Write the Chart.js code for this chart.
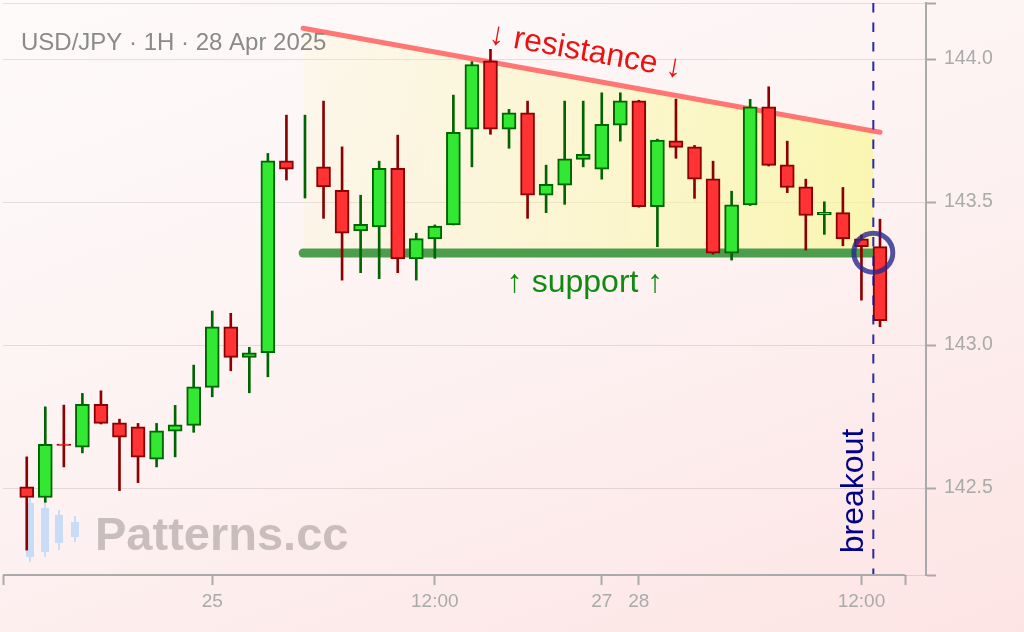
<!DOCTYPE html>
<html>
<head>
<meta charset="utf-8">
<script src="https://cdn.jsdelivr.net/npm/chart.js@4.4.1/dist/chart.umd.min.js"></script>
<style>
  html, body { margin: 0; padding: 0; }
  body { width: 1024px; height: 632px; overflow: hidden;
         background: linear-gradient(160deg, #fefafa 0%, #fdf2f2 50%, #fde4e4 100%); }
  #wrap { width: 1024px; height: 632px; }
</style>
</head>
<body>
<div id="wrap"><canvas id="chart" width="1024" height="632"></canvas></div>
<script>
// USD/JPY 1H candles (index 0 = first bar)
const opens  = [142.504, 142.467, 142.654, 142.643, 142.793, 142.728, 142.714, 142.601, 142.699, 142.719,
                142.852, 143.064, 142.957, 142.973, 143.644, 143.660, 143.623, 143.541, 143.399, 143.413,
                143.618, 143.301, 143.371, 143.420, 143.755, 143.994, 143.755, 143.812, 143.524, 143.559,
                143.649, 143.615, 143.769, 143.854, 143.484, 143.714, 143.693, 143.581, 143.321, 143.490,
                143.833, 143.630, 143.553, 143.455, 143.463, 143.371, 143.344];
const highs  = [142.609, 142.784, 142.790, 142.831, 142.840, 142.741, 142.726, 142.726, 142.789, 142.930,
                143.119, 143.111, 142.992, 143.670, 143.804, 143.804, 143.853, 143.693, 143.524, 143.643,
                143.734, 143.391, 143.420, 143.874, 143.991, 144.034, 143.824, 143.853, 143.629, 143.853,
                143.853, 143.882, 143.882, 143.856, 143.720, 143.860, 143.698, 143.643, 143.538, 143.859,
                143.903, 143.713, 143.580, 143.501, 143.551, 143.385, 143.440];
const lows   = [142.283, 142.450, 142.574, 142.623, 142.724, 142.491, 142.519, 142.574, 142.609, 142.695,
                142.819, 142.910, 142.833, 142.889, 143.577, 143.514, 143.443, 143.227, 143.253, 143.232,
                143.253, 143.227, 143.303, 143.420, 143.623, 143.737, 143.688, 143.443, 143.463, 143.492,
                143.623, 143.580, 143.713, 143.482, 143.344, 143.653, 143.513, 143.318, 143.297, 143.488,
                143.626, 143.533, 143.332, 143.387, 143.347, 143.157, 143.064];
const closes = [142.467, 142.653, 142.649, 142.793, 142.726, 142.678, 142.608, 142.700, 142.721, 142.854,
                143.064, 142.957, 142.973, 143.644, 143.615, 143.660, 143.553, 143.391, 143.422, 143.618,
                143.301, 143.372, 143.416, 143.744, 143.981, 143.755, 143.812, 143.524, 143.562, 143.651,
                143.667, 143.772, 143.854, 143.484, 143.717, 143.691, 143.580, 143.321, 143.490, 143.833,
                143.628, 143.551, 143.453, 143.464, 143.371, 143.344, 143.085];

// x axis labels sit on bar indexes
const tickIndex = [10, 22, 31, 33, 45];
const tickText  = ['25', '12:00', '27', '28', '12:00'];
const yTickValues = [142.5, 143.0, 143.5, 144.0];

// pattern lines (bar index, price)
const resistance = [{x: 14.9, y: 144.108}, {x: 46.0, y: 143.744}];
const resistanceFill = [{x: 14.9, y: 144.108}, {x: 45.64, y: 143.748}];
const support = [{x: 14.9, y: 143.322}, {x: 45.64, y: 143.322}];
const breakoutAt = 45.64;
const breakoutPoint = [{x: 45.64, y: 143.323}];

const X_MIN = -1.28, X_MAX = 48.48, X_END = 47.35;
const Y_MIN = 142.196, Y_MAX = 144.196;

const UP = '#33e833', UP_EDGE = '#006400';
const DOWN = '#ff3333', DOWN_EDGE = '#8b0000';

const isUp = i => closes[i] >= opens[i];
const idx = opens.map((_, i) => i);

Chart.defaults.font.family = "'Liberation Sans', Arial, sans-serif";

// annotation text anchors (bar index, price)
const notes = {
  resistance: {x: 30.04, y: 143.995},
  support: {x: 30.1, y: 143.184},
  breakout: {x: 45.08, y: 142.49}
};

const noPad = s => { s.paddingLeft = 0; s.paddingRight = 0; s.paddingTop = 0; s.paddingBottom = 0; };

const decor = {
  id: 'decor',
  beforeDatasetsDraw(chart) {
    const c = chart.ctx;
    c.save();
    // watermark logo + text
    c.fillStyle = '#c9dcf5';
    const logo = [[30, 503, 557, 562, 498], [45, 508, 552, 557, 503], [59, 515, 543, 550, 510], [75, 522, 537, 542, 516]];
    logo.forEach(([cx, t, b, lo, hi]) => {
      c.fillRect(cx - 1, hi, 2, lo - hi);
      c.fillRect(cx - 4, t, 8, b - t);
    });
    c.font = "bold 47px 'Liberation Sans', Arial, sans-serif";
    c.fillStyle = 'rgba(150,140,140,0.5)';
    c.textBaseline = 'alphabetic';
    c.fillText('Patterns.cc', 95, 550);
    c.restore();
  },
  afterDatasetsDraw(chart) {
    const c = chart.ctx;
    const xs = chart.scales.x, ys = chart.scales.y;
    c.save();
    c.textBaseline = 'alphabetic';
    c.textAlign = 'center';
    c.font = "32px 'Liberation Sans', Arial, sans-serif";

    // resistance label, rotated along the line
    const x1 = xs.getPixelForValue(resistance[0].x), y1 = ys.getPixelForValue(resistance[0].y);
    const x2 = xs.getPixelForValue(resistance[1].x), y2 = ys.getPixelForValue(resistance[1].y);
    const ang = Math.atan2(y2 - y1, x2 - x1);
    c.save();
    c.translate(xs.getPixelForValue(notes.resistance.x), ys.getPixelForValue(notes.resistance.y));
    c.rotate(ang);
    c.fillStyle = '#e81414';
    c.fillText('↓ resistance ↓', 0, 0);
    c.restore();

    c.fillStyle = '#128a12';
    c.fillText('↑ support ↑', xs.getPixelForValue(notes.support.x), ys.getPixelForValue(notes.support.y));

    c.save();
    c.translate(xs.getPixelForValue(notes.breakout.x), ys.getPixelForValue(notes.breakout.y));
    c.rotate(-Math.PI / 2);
    c.fillStyle = '#00008b';
    c.fillText('breakout', 0, 0);
    c.restore();
    c.restore();
  },
  afterDraw(chart) {
    const c = chart.ctx;
    const xs = chart.scales.x;
    c.save();
    // x axis line stops short of the price axis
    c.strokeStyle = '#aaa';
    c.lineWidth = 2;
    c.beginPath();
    c.moveTo(xs.getPixelForValue(X_MIN), chart.chartArea.bottom);
    c.lineTo(xs.getPixelForValue(X_END), chart.chartArea.bottom);
    c.stroke();
    // title
    c.font = "24px 'Liberation Sans', Arial, sans-serif";
    c.fillStyle = '#8a8a8a';
    c.textBaseline = 'alphabetic';
    c.fillText('USD/JPY · 1H · 28 Apr 2025', 21, 50);
    c.restore();
  }
};

new Chart(document.getElementById('chart'), {
  type: 'bar',
  data: {
    datasets: [
      {
        type: 'line',
        data: resistanceFill,
        borderWidth: 0,
        pointRadius: 0,
        fill: {target: 3},
        backgroundColor: ctx => {
          const ch = ctx.chart;
          if (!ch.chartArea) return 'rgba(250,245,160,0.5)';
          const xs = ch.scales.x;
          const g = ch.ctx.createLinearGradient(xs.getPixelForValue(resistanceFill[0].x), 0, xs.getPixelForValue(resistanceFill[1].x), 0);
          g.addColorStop(0, 'rgba(250,248,170,0.15)');
          g.addColorStop(1, 'rgba(248,248,150,0.7)');
          return g;
        },
        order: 6
      },
      {
        type: 'line',
        data: resistance,
        borderColor: 'rgba(255,95,95,0.85)',
        borderWidth: 5,
        borderCapStyle: 'round',
        pointRadius: 0,
        order: 5
      },
      {
        // placeholder keeps indexes simple
        type: 'line',
        data: [],
        order: 5
      },
      {
        type: 'line',
        data: support,
        borderColor: '#4c9e4c',
        borderWidth: 9,
        borderCapStyle: 'round',
        pointRadius: 0,
        order: 5
      },
      {
        // wicks
        data: idx.map(i => ({x: i, y: [lows[i], highs[i]]})),
        backgroundColor: idx.map(i => isUp(i) ? UP_EDGE : DOWN_EDGE),
        borderWidth: 0,
        barThickness: 2,
        grouped: false,
        order: 4
      },
      {
        // bodies
        data: idx.map(i => ({x: i, y: [opens[i], closes[i]]})),
        backgroundColor: idx.map(i => isUp(i) ? UP : DOWN),
        borderColor: idx.map(i => isUp(i) ? UP_EDGE : DOWN_EDGE),
        borderWidth: 2,
        borderSkipped: false,
        barThickness: 14,
        grouped: false,
        order: 3
      },
      {
        type: 'line',
        data: [{x: breakoutAt, y: Y_MAX}, {x: breakoutAt, y: Y_MIN}],
        borderColor: 'rgba(20,20,150,0.9)',
        borderWidth: 2,
        borderDash: [9.5, 10],
        pointRadius: 0,
        order: 2
      },
      {
        type: 'scatter',
        data: breakoutPoint,
        pointRadius: 19.5,
        pointBorderWidth: 5,
        pointBorderColor: 'rgba(40,40,140,0.8)',
        pointBackgroundColor: 'rgba(0,0,0,0)',
        order: 1
      }
    ]
  },
  options: {
    responsive: false,
    animation: false,
    events: [],
    layout: {autoPadding: false, padding: {left: 3, top: 3, right: 0, bottom: 0}},
    plugins: {legend: {display: false}, tooltip: {enabled: false}, title: {display: false}},
    scales: {
      x: {
        type: 'linear',
        min: X_MIN,
        max: X_MAX,
        offset: false,
        afterBuildTicks: s => { s.ticks = [X_MIN, ...tickIndex, X_END].map(v => ({value: v})); },
        afterFit: s => { s.height = 57; noPad(s); },
        grid: {drawOnChartArea: false, offset: false, tickLength: 10, tickColor: '#aaa', tickWidth: 2},
        border: {display: false},
        ticks: {
          autoSkip: false,
          maxRotation: 0,
          color: '#aaa',
          font: {size: 19},
          padding: 5,
          callback: v => {
            const k = tickIndex.indexOf(v);
            return k >= 0 ? tickText[k] : '';
          }
        }
      },
      y: {
        position: 'right',
        min: Y_MIN,
        max: Y_MAX,
        afterBuildTicks: s => { s.ticks = [Y_MIN, ...yTickValues, Y_MAX].map(v => ({value: v})); },
        afterFit: s => { s.width = 98; noPad(s); },
        grid: {color: 'rgba(0,0,0,0.1)', lineWidth: 1, tickLength: 10, tickColor: '#aaa', tickWidth: 2},
        border: {display: true, color: '#aaa', width: 2},
        ticks: {
          color: '#aaa',
          font: {size: 19.5},
          padding: 8,
          callback: v => yTickValues.includes(v) ? v.toFixed(1) : ''
        }
      }
    }
  },
  plugins: [decor]
});
</script>
</body>
</html>
